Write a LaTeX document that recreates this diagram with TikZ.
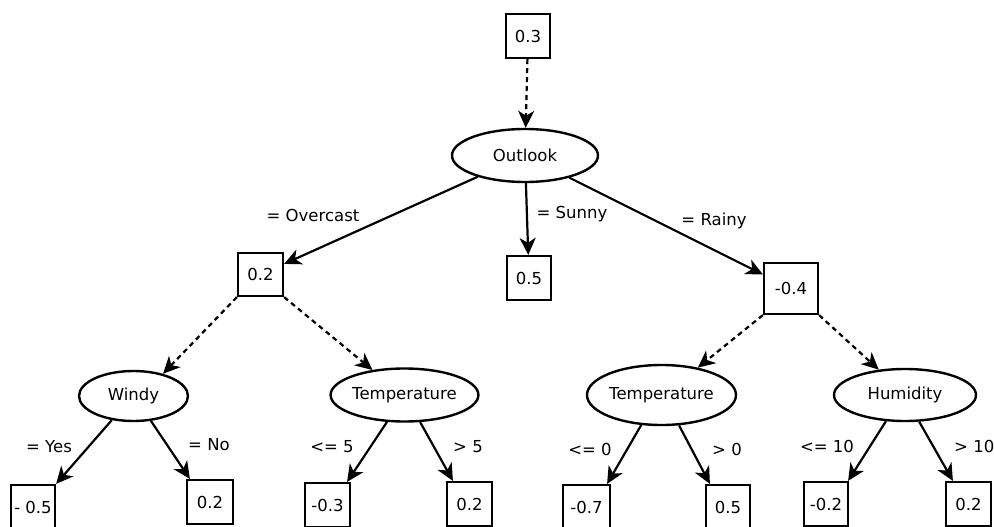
\documentclass[tikz,border=0pt]{standalone}
\usepackage{fontspec}
\setmainfont{DejaVu Sans}
\usetikzlibrary{shapes.geometric,arrows.meta}
\begin{document}
\begin{tikzpicture}[x=1pt,y=-1pt,
  font=\fontsize{16.5}{19}\selectfont,
  leaf/.style={draw, line width=2.2pt, rectangle, inner sep=0pt},
  attr/.style={draw, line width=2.4pt, ellipse, inner sep=0pt},
  solidarrow/.style={line width=2.2pt, -{Stealth[length=17pt,width=16pt,inset=5pt]}},
  dasharrow/.style={solidarrow, dash pattern=on 5pt off 4pt},
  lbl/.style={inner sep=0pt}]
\useasboundingbox (0,0) rectangle (994,527);

% nodes
\node[leaf, minimum width=44pt, minimum height=44pt] (r) at (528,36) {0.3};
\node[attr, minimum width=146pt, minimum height=53pt] (outlook) at (525,155.5) {Outlook};

\node[leaf, minimum width=45pt, minimum height=43pt] (b02) at (260.5,274.5) {0.2};
\node[leaf, minimum width=44pt, minimum height=44pt] (b05) at (529,278) {0.5};
\node[leaf, minimum width=54pt, minimum height=51pt] (bm04) at (791,288.5) {-0.4};

\node[attr, minimum width=109pt, minimum height=50pt] (windy) at (133.5,396) {Windy};
\node[attr, minimum width=147pt, minimum height=53pt] (templ) at (404.5,395) {Temperature};
\node[attr, minimum width=149pt, minimum height=60pt] (tempr) at (661.5,395) {Temperature};
\node[attr, minimum width=142pt, minimum height=52pt] (humid) at (905,395) {Humidity};

\node[leaf, minimum width=44pt, minimum height=44pt] (m05) at (33,507) {- 0.5};
\node[leaf, minimum width=46pt, minimum height=44pt] (w02) at (210,502) {0.2};
\node[leaf, minimum width=45pt, minimum height=44pt] (m03) at (327.5,505) {-0.3};
\node[leaf, minimum width=45pt, minimum height=44pt] (t02) at (469.5,504) {0.2};
\node[leaf, minimum width=47pt, minimum height=44pt] (m07) at (586.5,507) {-0.7};
\node[leaf, minimum width=44pt, minimum height=44pt] (t05) at (728,507) {0.5};
\node[leaf, minimum width=44pt, minimum height=44pt] (m02) at (826,504) {-0.2};
\node[leaf, minimum width=45pt, minimum height=44pt] (h02) at (968.5,504) {0.2};

% connectors
\draw[dasharrow] (r) -- (outlook);
\draw[solidarrow] (outlook) -- (b02);
\draw[solidarrow] (outlook) -- (b05);
\draw[solidarrow] (outlook) -- (bm04);

\draw[dasharrow] (b02.south west) -- (windy.37);
\draw[dasharrow] (b02.south east) -- (templ.142);
\draw[dasharrow] (bm04.south west) -- (tempr.37);
\draw[dasharrow] (bm04.south east) -- (humid.136);

\draw[solidarrow] (windy.228) -- (m05.north east);
\draw[solidarrow] (windy.305) -- ([xshift=4pt]w02.north west);
\draw[solidarrow] (templ.237) -- ([xshift=-4pt]m03.north east);
\draw[solidarrow] (templ.300) -- ([xshift=7pt]t02.north west);
\draw[solidarrow] (tempr.236) -- ([xshift=-4pt]m07.north east);
\draw[solidarrow] (tempr.300) -- ([xshift=5pt]t05.north west);
\draw[solidarrow] (humid.234) -- ([xshift=-1pt]m02.north east);
\draw[solidarrow] (humid.298) -- ([xshift=8pt]h02.north west);

% labels
\node[lbl] (lov) at (313,215) {= Overcast};
\node[lbl] (lsu) at (572,214) {= Sunny};
\node[lbl] (lra) at (714,221) {= Rainy};
\node[lbl] (lye) at (49,447) {= Yes};
\node[lbl] (lno) at (209,445) {= No};
\node[lbl] (ll5) at (332,447) {<= 5};
\node[lbl] (lg5) at (468,447) {> 5};
\node[lbl] (ll0) at (590,449) {<= 0};
\node[lbl] (lg0) at (727,449) {> 0};
\node[lbl] (ll10) at (827,446) {<= 10};
\node[lbl, anchor=west] (lg10) at (954,446) {> 10};
\end{tikzpicture}
\end{document}
